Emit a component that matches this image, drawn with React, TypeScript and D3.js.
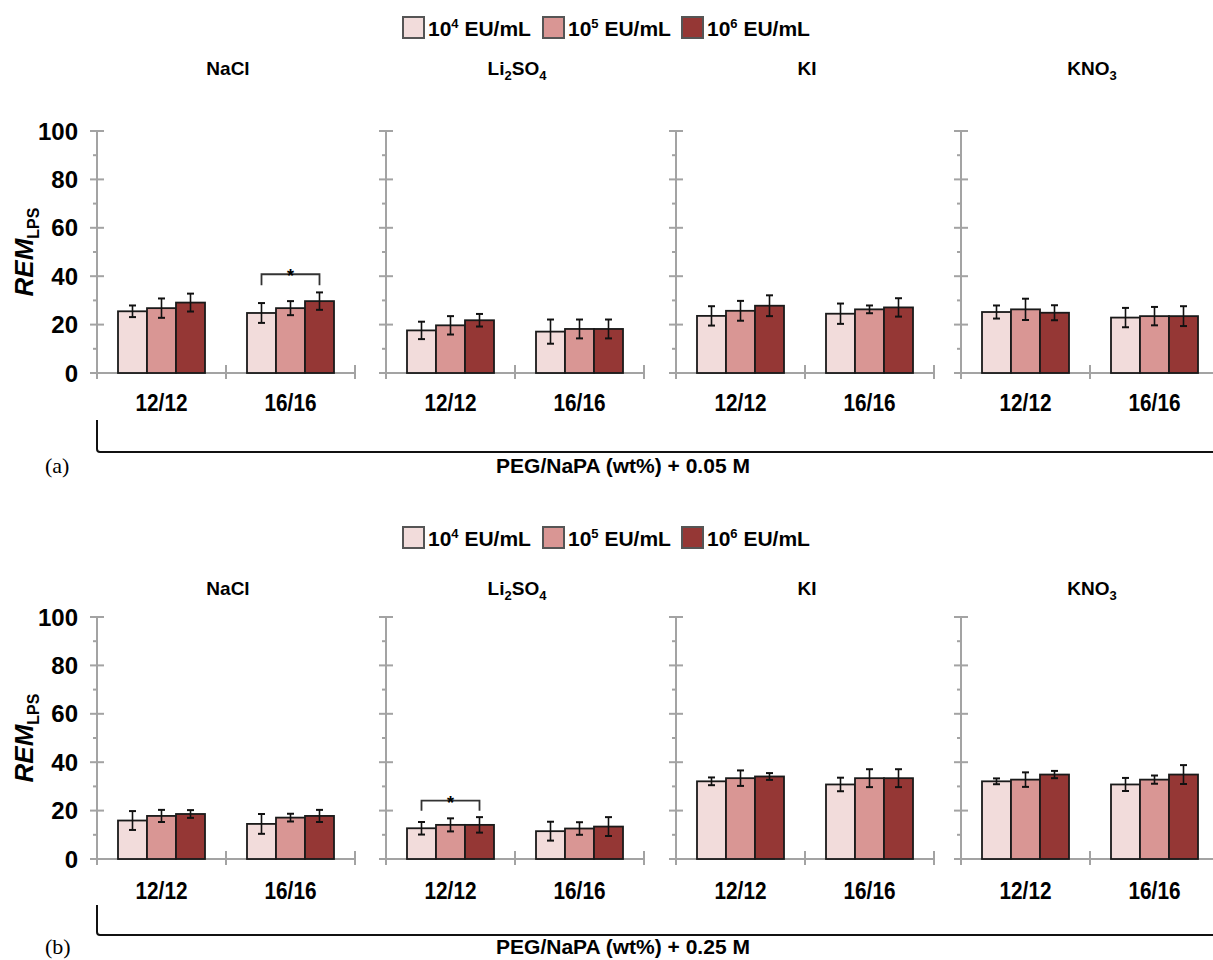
import React from "react";
import * as d3 from "d3";

// categories
const salts = ["NaCl", "Li2SO4", "KI", "KNO3"];
const ratios = ["12/12", "16/16"];
const levels = ["4", "5", "6"]; // 10^n EU/mL
const colors = ["#f2dcdb", "#d99694", "#953735"];
const yTicks = [0, 20, 40, 60, 80, 100];

// (a) PEG/NaPA + 0.05 M  -- per salt: 12/12 x3 then 16/16 x3
const meanA = [
  [25.5, 26.8, 29.1, 24.8, 26.8, 29.7],
  [17.6, 19.7, 21.8, 17.1, 18.2, 18.2],
  [23.6, 25.7, 27.8, 24.5, 26.3, 27.1],
  [25.2, 26.3, 24.9, 22.9, 23.5, 23.5],
];
const errA = [
  [2.4, 4.0, 3.7, 4.1, 2.9, 3.6],
  [3.6, 3.8, 2.6, 5.0, 3.9, 3.9],
  [4.0, 4.1, 4.3, 4.2, 1.6, 3.8],
  [2.7, 4.4, 3.1, 4.0, 3.8, 4.1],
];
// (b) PEG/NaPA + 0.25 M
const meanB = [
  [15.9, 17.8, 18.6, 14.5, 17.1, 17.8],
  [12.7, 14.1, 14.1, 11.5, 12.6, 13.4],
  [32.1, 33.4, 34.1, 30.8, 33.4, 33.4],
  [32.1, 32.8, 34.9, 30.8, 32.8, 34.9],
];
const errB = [
  [3.9, 2.5, 1.6, 4.1, 1.6, 2.5],
  [2.6, 2.7, 3.2, 3.9, 2.6, 3.9],
  [1.6, 3.2, 1.4, 2.8, 3.7, 3.7],
  [1.2, 3.0, 1.5, 2.7, 1.7, 3.9],
];
// significance bracket: salt idx, ratio idx, bracket value, leg end value
const sigA = [0, 1, 40.8, 36.3];
const sigB = [1, 0, 24.1, 19.9];

const FONT = "'Liberation Sans', Arial, sans-serif";
const AXIS = "#a3a3a3";
const panelX = [97, 386, 676, 961];
const panelW = 258;

const rows = [
  { mean: meanA, err: errA, sig: sigA, legendY: 36, titleY: 75, y0: 373, y100: 131, labelY: 411, brTop: 420, brY: 452, capY: 473, tag: "(a)", caption: "PEG/NaPA (wt%) + 0.05 M" },
  { mean: meanB, err: errB, sig: sigB, legendY: 546, titleY: 595, y0: 859, y100: 617, labelY: 899, brTop: 905, brY: 935, capY: 954, tag: "(b)", caption: "PEG/NaPA (wt%) + 0.25 M" },
];

function SaltTitle({ name, x, y }: { name: string; x: number; y: number }) {
  // digits drawn as subscripts
  const parts = name.match(/[A-Za-z]+|\d+/g) || [];
  return (
    <text x={x} y={y} textAnchor="middle" fontFamily={FONT} fontWeight="bold" fontSize={19}>
      {parts.map((p, i) =>
        /\d/.test(p) ? (
          <tspan key={i} fontSize={13} dy={5}>{p}</tspan>
        ) : (
          <tspan key={i} dy={i > 0 ? -5 : 0}>{p}</tspan>
        )
      )}
    </text>
  );
}

function Row({ row }: { row: typeof rows[number] }) {
  const y = d3.scaleLinear().domain([0, 100]).range([row.y0, row.y100]);
  const xOuter = d3.scaleBand().domain(ratios).range([0, panelW]);
  const xInner = d3.scaleBand().domain(levels).range([-43.5, 43.5]);
  const legendX = [403, 543, 682];

  return (
    <g>
      {/* legend */}
      {levels.map((lv, i) => (
        <g key={lv}>
          <rect x={legendX[i]} y={row.legendY - 19} width={21} height={21} fill={colors[i]} stroke="#555" strokeWidth={2} />
          <text x={legendX[i] + 25} y={row.legendY} fontFamily={FONT} fontWeight="bold" fontSize={21}>
            10<tspan fontSize={13} dy={-8}>{lv}</tspan>
            <tspan dy={8}> EU/mL</tspan>
          </text>
        </g>
      ))}

      {/* y axis title */}
      <text transform={`translate(33,${(row.y0 + row.y100) / 2}) rotate(-90)`} textAnchor="middle" fontFamily={FONT} fontWeight="bold" fontSize={26}>
        <tspan fontStyle="italic">REM</tspan>
        <tspan fontSize={16} dy={6}>LPS</tspan>
      </text>

      {/* y tick labels */}
      {yTicks.map((t) => (
        <text key={t} x={panelX[0] - 19} y={y(t)} dy="0.36em" textAnchor="end" fontFamily={FONT} fontWeight="bold" fontSize={24}>
          {t}
        </text>
      ))}

      {salts.map((s, si) => {
        const x0 = panelX[si];
        return (
          <g key={s}>
            <SaltTitle name={s} x={x0 + 131} y={row.titleY} />
            {/* y axis */}
            <line x1={x0} x2={x0} y1={y(100)} y2={y(0) + 6} stroke={AXIS} strokeWidth={2} />
            {d3.range(0, 101, 10).map((t) => (
              <line key={t} x1={t % 20 === 0 ? x0 - 7 : x0 - 4} x2={t % 20 === 0 ? x0 + 7 : x0} y1={y(t)} y2={y(t)} stroke={AXIS} strokeWidth={2} />
            ))}
            {/* x axis */}
            <line x1={x0 - 7} x2={x0 + panelW} y1={y(0)} y2={y(0)} stroke={AXIS} strokeWidth={2} />
            {[1, 2].map((k) => (
              <line key={k} x1={x0 + xOuter.bandwidth() * k} x2={x0 + xOuter.bandwidth() * k} y1={y(0) - 8} y2={y(0) + 6} stroke={AXIS} strokeWidth={2} />
            ))}
            {ratios.map((r, ri) => {
              const cx = x0 + (xOuter(r) as number) + xOuter.bandwidth() / 2;
              return (
                <g key={r}>
                  {levels.map((lv, li) => {
                    const v = row.mean[si][ri * 3 + li];
                    const e = row.err[si][ri * 3 + li];
                    const bx = cx + (xInner(lv) as number);
                    const mx = bx + xInner.bandwidth() / 2;
                    return (
                      <g key={lv}>
                        <rect x={bx} y={y(v)} width={xInner.bandwidth()} height={y(0) - y(v)} fill={colors[li]} stroke="#1a1a1a" strokeWidth={1.8} />
                        <line x1={mx} x2={mx} y1={y(v + e)} y2={y(v - e)} stroke="#111" strokeWidth={1.6} />
                        <line x1={mx - 3.5} x2={mx + 3.5} y1={y(v + e)} y2={y(v + e)} stroke="#111" strokeWidth={2} />
                        <line x1={mx - 3.5} x2={mx + 3.5} y1={y(v - e)} y2={y(v - e)} stroke="#111" strokeWidth={2} />
                      </g>
                    );
                  })}
                  <text x={cx} y={row.labelY} textAnchor="middle" fontFamily={FONT} fontWeight="bold" fontSize={23} textLength={52} lengthAdjust="spacingAndGlyphs">
                    {r}
                  </text>
                </g>
              );
            })}
          </g>
        );
      })}

      {/* significance bracket */}
      {(() => {
        const [si, ri, top, leg] = row.sig;
        const cx = panelX[si] + (xOuter(ratios[ri]) as number) + xOuter.bandwidth() / 2;
        const xa = cx + (xInner(levels[0]) as number) + xInner.bandwidth() / 2;
        const xb = cx + (xInner(levels[2]) as number) + xInner.bandwidth() / 2;
        const p = d3.path();
        p.moveTo(xa, y(leg));
        p.lineTo(xa, y(top));
        p.lineTo(xb, y(top));
        p.lineTo(xb, y(leg));
        return (
          <g>
            <path d={p.toString()} fill="none" stroke="#333" strokeWidth={1.8} />
            <text x={(xa + xb) / 2} y={y(top) + 8} textAnchor="middle" fontFamily={FONT} fontWeight="bold" fontSize={18}>*</text>
          </g>
        );
      })()}

      {/* group bracket */}
      <path d={`M${panelX[0]},${row.brTop} L${panelX[0]},${row.brY - 3} Q${panelX[0]},${row.brY} ${panelX[0] + 3},${row.brY} L1213,${row.brY}`} fill="none" stroke="#111" strokeWidth={2} />
      <text x={45} y={row.capY} fontFamily="'Liberation Serif', 'Times New Roman', serif" fontSize={22}>{row.tag}</text>
      <text x={623} y={row.capY} textAnchor="middle" fontFamily={FONT} fontWeight="bold" fontSize={21}>{row.caption}</text>
    </g>
  );
}

export default function App() {
  return (
    <svg width={1213} height={960} style={{ position: "absolute", left: 0, top: 0, background: "#fff" }}>
      <rect width={1213} height={960} fill="#fff" />
      {rows.map((r, i) => (
        <Row key={i} row={r} />
      ))}
    </svg>
  );
}
